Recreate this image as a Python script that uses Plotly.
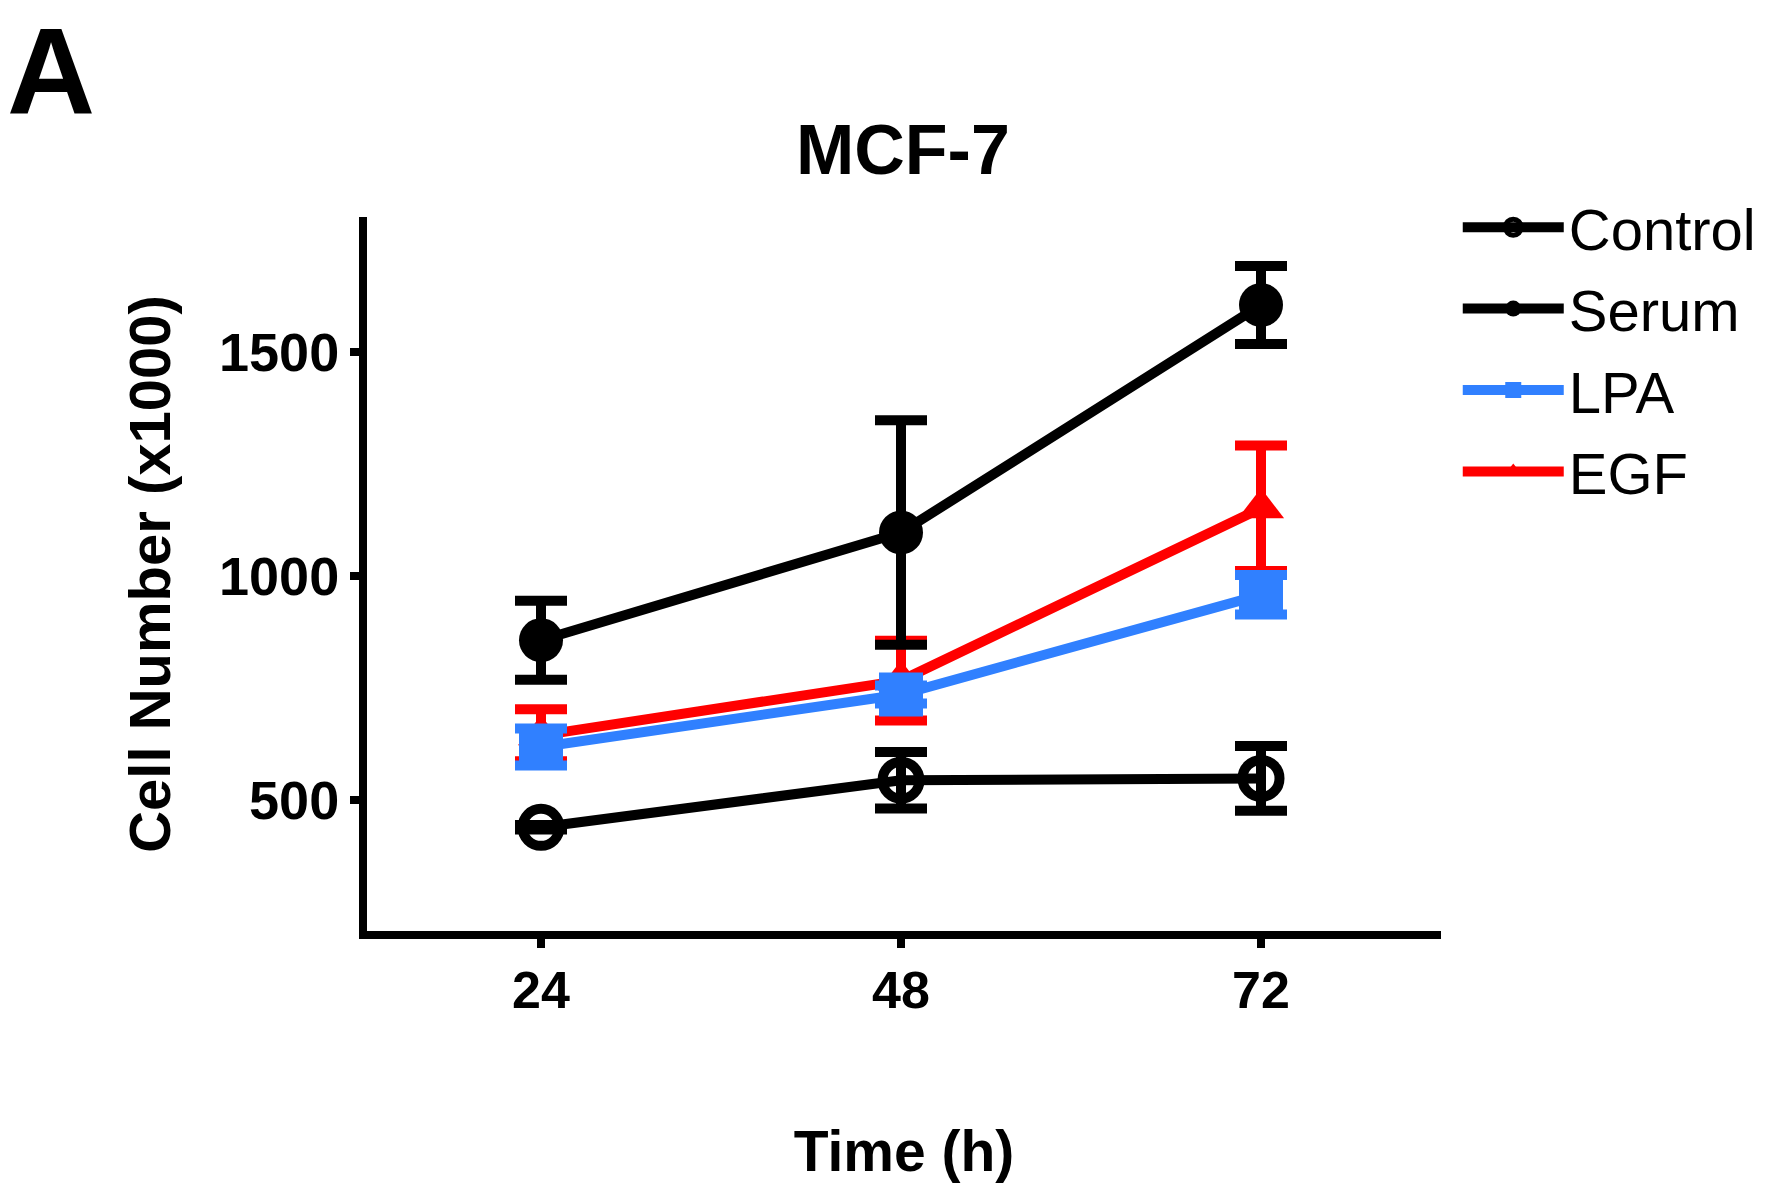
import plotly.graph_objects as go

# time points (h)
time_h = [24, 48, 72]

# cell numbers (x1000), mean and error
control = [440, 545, 549]
control_err = [5, 63, 72]
serum = [857, 1097, 1604]
serum_err = [88, 250, 87]
lpa = [619, 736, 958]
lpa_err = [41, 20, 44]
egf = [645, 767, 1151]
egf_err = [58, 89, 140]

y_ticks = [500, 1000, 1500]

BLUE = "#3080FF"
RED = "#FF0000"
FONT = "Liberation Sans, Arial, sans-serif"

fig = go.Figure()


def add_series(name, y, err, color, symbol, size, rank, open_marker=False):
    marker = dict(symbol=symbol, size=size, color=color)
    if open_marker:
        marker["line"] = dict(color=color, width=10)
    fig.add_trace(go.Scatter(
        x=time_h, y=y, name=name, mode="lines+markers",
        line=dict(color=color, width=10),
        marker=marker,
        error_y=dict(type="data", array=err, visible=True,
                     color=color, thickness=10, width=26),
        legendrank=rank, legendgroup=name,
    ))


# draw order: EGF under LPA, black series on top
add_series("EGF", egf, egf_err, RED, "triangle-up", 40, 4)
add_series("LPA", lpa, lpa_err, BLUE, "square", 44, 3)
add_series("Control", control, control_err, "black", "circle-open", 37, 1, open_marker=True)
add_series("Serum", serum, serum_err, "black", "circle", 44, 2)

fig.update_layout(
    width=1767, height=1192,
    margin=dict(l=367, r=326, t=217, b=261, autoexpand=False),
    plot_bgcolor="white", paper_bgcolor="white",
    font=dict(family=FONT, color="black"),
    title=dict(text="MCF-7", x=0.511, xanchor="center", y=0.875, yanchor="middle",
               font=dict(size=70, weight="bold", family=FONT)),
    xaxis=dict(range=[12.4, 84], tickvals=time_h, showgrid=False, zeroline=False,
               showline=True, linecolor="black", linewidth=8,
               ticks="outside", ticklen=9, tickwidth=8, tickcolor="black",
               ticklabelstandoff=-2,
               tickfont=dict(size=52, weight="bold", family=FONT),
               title=dict(text="Time (h)", standoff=116,
                          font=dict(size=57, weight="bold", family=FONT))),
    yaxis=dict(range=[209, 1800], tickvals=y_ticks, showgrid=False, zeroline=False,
               showline=True, linecolor="black", linewidth=8,
               ticks="outside", ticklen=9, tickwidth=8, tickcolor="black",
               ticklabelstandoff=0,
               tickfont=dict(size=54, weight="bold", family=FONT),
               title=dict(text="Cell Number (x1000)", standoff=33,
                          font=dict(size=58, weight="bold", family=FONT))),
    legend=dict(x=1.0156, xanchor="left", y=1.0476, yanchor="top",
                bgcolor="rgba(0,0,0,0)", itemwidth=101, tracegroupgap=3,
                font=dict(size=58, family=FONT)),
    annotations=[dict(text="A", xref="paper", yref="paper",
                      x=-0.2942, y=1.3007, xanchor="center", yanchor="top",
                      showarrow=False, font=dict(size=122, weight="bold", family=FONT))],
)

fig.write_html("out.html", config={"displayModeBar": False},
               post_script="document.body.style.margin='0';document.body.style.overflow='hidden';")
